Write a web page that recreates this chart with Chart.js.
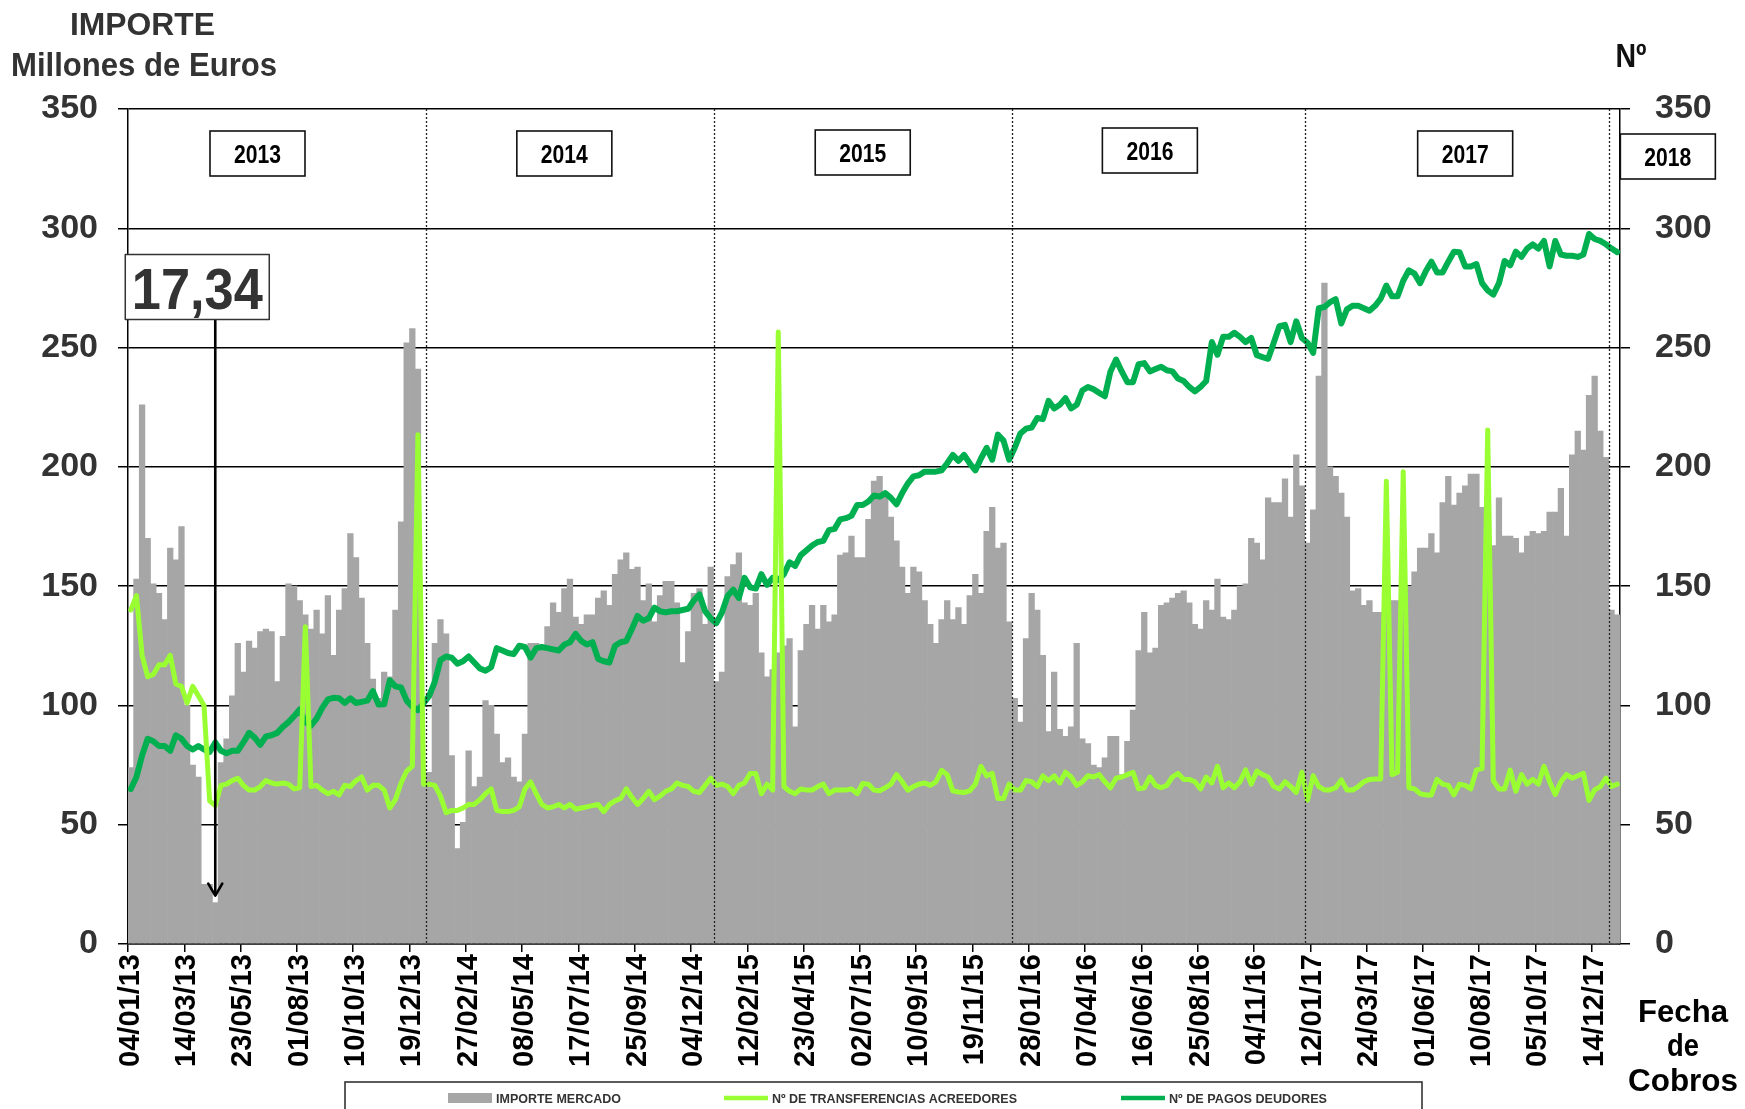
<!DOCTYPE html>
<html lang="es">
<head>
<meta charset="utf-8">
<title>Importe mercado y número de operaciones</title>
<script src="https://cdn.jsdelivr.net/npm/chart.js@4.4.1/dist/chart.umd.min.js"></script>
<style>
  html, body { margin: 0; padding: 0; background: #fff; }
  #wrap { width: 1745px; height: 1109px; }
  canvas { display: block; }
</style>
</head>
<body>
<div id="wrap"><canvas id="chart" width="1745" height="1109"></canvas></div>
<script>
// Tick labels shown every 10 weekly points (Fecha de Cobros)
const tickLabels = [
  '04/01/13', '14/03/13', '23/05/13', '01/08/13', '10/10/13', '19/12/13', '27/02/14',
  '08/05/14', '17/07/14', '25/09/14', '04/12/14', '12/02/15', '23/04/15', '02/07/15',
  '10/09/15', '19/11/15', '28/01/16', '07/04/16', '16/06/16', '25/08/16', '04/11/16',
  '12/01/17', '24/03/17', '01/06/17', '10/08/17', '05/10/17', '14/12/17'
];

// IMPORTE MERCADO (millones de euros), weekly
const importeMercado = [
  74, 153, 226, 170, 151, 147, 136, 166, 161, 175,
  100, 75, 70, 25, 25, 17.34, 76, 86, 104, 126,
  114, 127, 124, 131, 132, 131, 110, 129, 151, 150,
  144, 138, 132, 140, 130, 146, 121, 140, 149, 172,
  162, 145, 126, 111, 103, 114, 112, 140, 177, 252,
  258, 241, 68, 72, 126, 136, 130, 79, 40, 51,
  81, 66, 70, 102, 100, 88, 76, 78, 70, 68,
  88, 126, 126, 125, 133, 143, 139, 149, 153, 137,
  134, 138, 138, 145, 148, 142, 155, 161, 164, 157,
  158, 144, 151, 135, 146, 152, 152, 143, 118, 131,
  147, 149, 134, 158, 110, 114, 154, 159, 164, 143,
  142, 147, 122, 112, 115, 122, 125, 128, 91, 123,
  134, 142, 132, 142, 135, 138, 163, 164, 171, 162,
  162, 178, 194, 196, 188, 179, 169, 158, 147, 158,
  156, 144, 134, 126, 136, 144, 136, 141, 134, 146,
  155, 147, 173, 183, 166, 168, 135, 103, 93, 128,
  147, 140, 121, 89, 114, 90, 87, 91, 126, 86,
  84, 75, 74, 78, 87, 87, 71, 85, 98, 123,
  139, 122, 124, 142, 143, 145, 147, 148, 143, 134,
  132, 144, 140, 153, 137, 136, 140, 150, 151, 170,
  168, 161, 187, 185, 185, 195, 179, 205, 192, 168,
  182, 238, 277, 200, 196, 189, 179, 148, 149, 142,
  144, 139, 139, 141, 144, 144, 146, 150, 156, 166,
  166, 172, 164, 185, 196, 184, 189, 192, 197, 197,
  183, 170, 167, 187, 171, 171, 170, 164, 171, 173,
  172, 173, 181, 181, 191, 171, 205, 215, 207, 230,
  238, 215, 204, 140, 138
];

// Nº DE TRANSFERENCIAS ACREEDORES, weekly
const transferenciasAcreedores = [
  140, 146, 121, 112, 113, 117, 117, 121, 109, 108,
  101, 108, 104, 100, 60, 58, 66.5, 67, 68.5, 69.5,
  66.5, 64.5, 64.5, 66, 68.5, 67.5, 67, 67.5, 67, 65,
  65.5, 133, 66, 66.5, 64.5, 63, 64, 62.5, 66.5, 66,
  68.5, 70, 64.5, 66.5, 66.5, 64.5, 57, 60.5, 67.5, 72.5,
  74.5, 213.5, 67, 67, 66.5, 62, 55, 56, 56, 57,
  58.5, 58.5, 60.5, 63, 65, 56, 55.5, 55.5, 56, 57.5,
  65, 68, 63, 58.5, 57, 57.5, 58.5, 57, 58.5, 56.5,
  57, 57.5, 58, 58.5, 55.5, 58.5, 60, 61, 65, 61.5,
  58.5, 61, 64, 60.5, 62, 64, 65, 67.5, 66.5, 66,
  64, 63.5, 66.5, 69.5, 66.5, 67, 66, 63, 66.5, 67.5,
  71.5, 71.5, 63, 67, 64.5, 256.5, 66, 64, 63, 65,
  64.5, 64.5, 66, 67, 63, 64.5, 64.5, 64.5, 65, 63,
  67.3, 67, 64.5, 64.2, 65.5, 67, 71, 68, 64.5, 66,
  67, 67.5, 66.5, 68, 72.8, 71, 64.2, 63.7, 63.5, 64.2,
  67, 74.5, 70.5, 71.5, 61, 61, 67, 64.5, 64.5, 68.5,
  68, 66, 70.5, 68.5, 70.5, 67.5, 72, 70, 66.5, 68,
  70.5, 70, 71, 68, 65.5, 69.5, 70, 71, 72, 65,
  65.5, 70, 66.5, 65.5, 66.5, 70, 71.5, 69, 69, 68,
  65, 70, 67.5, 74.5, 65.5, 67.5, 65.5, 68, 73, 67,
  72.5, 71, 70, 66, 65, 68, 66, 63.5, 72, 60.3,
  70.5, 66, 64.6, 64.6, 65.5, 68.8, 64.5, 64.5, 66, 68,
  69, 69.2, 69.2, 194, 71, 72, 198, 65.5, 65, 63,
  62.5, 62.5, 69, 67, 66.5, 62.5, 67, 66.5, 65, 73,
  73.5, 215.5, 68.5, 65, 65, 72.9, 64, 71, 67, 69,
  67, 74.5, 68, 62.7, 68, 71, 69.5, 70.5, 71.5, 60.2,
  64.6, 66, 69.5, 66, 67
];

// Nº DE PAGOS DEUDORES, weekly
const pagosDeudores = [
  65, 70, 79, 86, 85, 83, 83, 81, 87.5, 86,
  83, 81.5, 83, 81.5, 80.5, 84.5, 81, 80, 81, 81,
  84.5, 88.5, 86.5, 83.5, 87, 87.5, 88.5, 91, 93, 95.5,
  98.3, 93, 91.5, 94.5, 99, 102.5, 103.2, 103, 101, 103,
  101, 101.5, 102, 106, 100.4, 100.5, 110.5, 108, 107.5, 102,
  99.5, 98, 101, 104, 110, 119, 120.5, 120, 117.5, 118.5,
  120.5, 118, 115.5, 114.5, 116, 124, 123, 122, 121.5, 125,
  124.5, 120, 124, 124.5, 124, 123.5, 123, 125.5, 126.5, 130,
  127, 125.5, 126.5, 119.5, 118.5, 118, 125, 126.5, 127, 132,
  137.5, 135.5, 136.5, 141, 139.5, 139, 139.5, 139.5, 140, 140.5,
  144, 146.5, 139.5, 136.5, 134.5, 139, 146, 148.5, 145, 153.5,
  149.5, 149, 155, 150.5, 153.5, 152.5, 155, 160, 158.5, 163,
  165, 167, 168.5, 169, 173.5, 174, 178, 178.5, 179.5, 184,
  184, 185.5, 188, 187.5, 189, 187, 184.3, 189, 193, 196,
  196.5, 198, 198, 198, 198.5, 201.5, 205, 202.5, 205, 201.5,
  198.5, 203.5, 208, 203, 213.5, 211, 203, 208, 214, 216,
  216.5, 220.5, 220, 227.7, 224.5, 226, 228.8, 224.5, 226, 232,
  233.5, 232.5, 231, 229.6, 240, 245, 240, 235.5, 235.5, 243,
  243.5, 240, 241, 242, 240.5, 240, 237, 236, 233.5, 231.6,
  233.5, 236, 252.3, 247, 254.5, 254.5, 256.2, 254.5, 252.3, 254,
  246.8, 246, 245.3, 252, 259, 259.5, 252.3, 261, 254, 252,
  247.8, 266.5, 267, 269, 270.3, 260.1, 266, 267.5, 267.5, 266.5,
  265.4, 267.5, 270.5, 276, 271.5, 271.5, 278, 282.4, 281, 277,
  282, 286, 281.5, 281.5, 286, 290.2, 290, 284, 284, 285,
  277, 274, 272.2, 277, 286.3, 284.5, 290.2, 288, 291.5, 293.3,
  291.5, 294.7, 284, 294.7, 289, 288.5, 288.5, 288, 289, 297.6,
  295.5, 294.7, 293.3, 291.5, 290
];

// Calendar years and the index of the first weekly point of each new year
const yearLabels = ['2013', '2014', '2015', '2016', '2017', '2018'];
const yearStartIndex = [53, 104, 157, 209, 263];

// Week with the lowest amount, called out with its value
const highlightIndex = 15;

// ---------------------------------------------------------------------------
const W = 1745, H = 1109;
const AREA = { left: 128, right: 1620, top: 109, bottom: 944 };
const FONT = "'Liberation Sans', Arial, Helvetica, sans-serif";
const COLORS = { bars: '#A6A6A6', transfer: '#99FF33', pagos: '#00B050' };

const categories = importeMercado.map((_, i) =>
  (i % 10 === 0 && tickLabels[i / 10]) ? tickLabels[i / 10] : '');

// Bold text, optionally squeezed horizontally to a given width
function text(ctx, str, x, y, size, opt) {
  const o = Object.assign({ color: '#000', align: 'center', width: null }, opt || {});
  ctx.save();
  ctx.font = `bold ${size}px ${FONT}`;
  ctx.fillStyle = o.color;
  ctx.textBaseline = 'alphabetic';
  const w = ctx.measureText(str).width;
  const sx = o.width ? o.width / w : 1;
  ctx.translate(x, y);
  ctx.scale(sx, 1);
  ctx.textAlign = o.align;
  ctx.fillText(str, 0, 0);
  ctx.restore();
}

// Year tag positions (category coordinate of the box centre, box top in px)
const yearTagAt = [22.5, 77, 130, 181, 237, 273];
const yearTagTop = [131, 131, 130, 128, 131, 134];

const decor = {
  id: 'decor',
  beforeDraw(chart) {
    const ctx = chart.ctx;
    ctx.save();
    ctx.fillStyle = '#fff';
    ctx.fillRect(0, 0, chart.width, chart.height);
    ctx.restore();
  },
  afterDatasetsDraw(chart) {
    const { ctx, chartArea: a, scales } = chart;
    const x = scales.x, y = scales.y;

    // dotted year separators
    ctx.save();
    ctx.strokeStyle = '#222';
    ctx.lineWidth = 1.3;
    ctx.setLineDash([2, 2]);
    yearStartIndex.forEach(k => {
      const px = Math.round(x.getPixelForValue(k - 0.5)) + 0.5;
      ctx.beginPath();
      ctx.moveTo(px, a.top);
      ctx.lineTo(px, a.bottom);
      ctx.stroke();
    });
    ctx.restore();

    // year tags
    yearLabels.forEach((lbl, i) => {
      const cx = x.getPixelForValue(yearTagAt[i]);
      const bw = 95, bh = 45, top = yearTagTop[i];
      ctx.save();
      ctx.fillStyle = '#fff';
      ctx.fillRect(cx - bw / 2, top, bw, bh);
      ctx.strokeStyle = '#111';
      ctx.lineWidth = 1.6;
      ctx.strokeRect(cx - bw / 2, top, bw, bh);
      ctx.restore();
      text(ctx, lbl, cx, top + bh / 2 + 9, 25, { width: 47 });
    });

    // callout of the lowest weekly amount
    const v = importeMercado[highlightIndex];
    const bx = x.getPixelForValue(highlightIndex);
    const label = v.toFixed(2).replace('.', ',');
    const boxW = 144, boxH = 65;
    const boxCx = bx - 18;
    const boxTop = y.getPixelForValue(289);
    const tipY = y.getPixelForValue(v) - 7;
    ctx.save();
    ctx.strokeStyle = '#000';
    ctx.lineWidth = 2.6;
    ctx.beginPath();
    ctx.moveTo(bx, boxTop + boxH);
    ctx.lineTo(bx, tipY);
    ctx.stroke();
    ctx.lineCap = 'round';
    ctx.lineJoin = 'round';
    ctx.beginPath();
    ctx.moveTo(bx - 7, tipY - 12);
    ctx.lineTo(bx, tipY);
    ctx.lineTo(bx + 7, tipY - 12);
    ctx.stroke();
    ctx.fillStyle = '#fff';
    ctx.fillRect(boxCx - boxW / 2, boxTop, boxW, boxH);
    ctx.strokeStyle = '#333';
    ctx.lineWidth = 1.5;
    ctx.strokeRect(boxCx - boxW / 2, boxTop, boxW, boxH);
    ctx.restore();
    text(ctx, label, boxCx, boxTop + 54, 57, { color: '#333', width: 131 });
  },
  afterDraw(chart) {
    const ctx = chart.ctx;
    // axis titles
    text(ctx, 'IMPORTE', 142.5, 34.5, 31, { color: '#333', width: 145 });
    text(ctx, 'Millones de Euros', 144, 76, 33, { color: '#333', width: 266 });
    text(ctx, 'Nº', 1631, 67, 33, { color: '#111', width: 31 });
    text(ctx, 'Fecha', 1683, 1022, 32, { width: 90 });
    text(ctx, 'de', 1683, 1056, 32, { width: 32 });
    text(ctx, 'Cobros', 1683, 1091, 32, { width: 110 });

    // legend
    ctx.save();
    ctx.strokeStyle = '#333';
    ctx.lineWidth = 1.6;
    ctx.strokeRect(345, 1082, 1422 - 345, 60);
    const ds = chart.data.datasets;
    const items = [
      { sx: 448, tx: 496, tw: 125 },
      { sx: 724, tx: 772, tw: 245 },
      { sx: 1121, tx: 1169, tw: 158 }
    ];
    const cy = 1098;
    items.forEach((it, i) => {
      const d = ds[i];
      if (d.type === 'bar') {
        ctx.fillStyle = d.backgroundColor;
        ctx.fillRect(it.sx, cy - 5, 44, 10);
      } else {
        ctx.strokeStyle = d.borderColor;
        ctx.lineWidth = 4.5;
        ctx.beginPath();
        ctx.moveTo(it.sx, cy);
        ctx.lineTo(it.sx + 44, cy);
        ctx.stroke();
      }
      text(ctx, d.label, it.tx, cy + 5, 13, { color: '#333', align: 'left', width: it.tw });
    });
    ctx.restore();
  }
};

new Chart(document.getElementById('chart').getContext('2d'), {
  type: 'bar',
  data: {
    labels: categories,
    datasets: [
      {
        type: 'bar',
        label: 'IMPORTE MERCADO',
        data: importeMercado,
        backgroundColor: COLORS.bars,
        borderWidth: 0,
        barPercentage: 1,
        categoryPercentage: 1,
        yAxisID: 'y',
        order: 3
      },
      {
        type: 'line',
        label: 'Nº DE TRANSFERENCIAS ACREEDORES',
        data: transferenciasAcreedores,
        borderColor: COLORS.transfer,
        backgroundColor: COLORS.transfer,
        borderWidth: 5,
        pointRadius: 0,
        tension: 0,
        borderJoinStyle: 'round',
        borderCapStyle: 'round',
        yAxisID: 'y2',
        order: 1
      },
      {
        type: 'line',
        label: 'Nº DE PAGOS DEUDORES',
        data: pagosDeudores,
        borderColor: COLORS.pagos,
        backgroundColor: COLORS.pagos,
        borderWidth: 6,
        pointRadius: 0,
        tension: 0,
        borderJoinStyle: 'round',
        borderCapStyle: 'round',
        yAxisID: 'y2',
        order: 2
      }
    ]
  },
  options: {
    responsive: false,
    animation: false,
    devicePixelRatio: 1,
    layout: { padding: { top: AREA.top, left: 0, right: 0, bottom: 0 } },
    plugins: { legend: { display: false }, tooltip: { enabled: false } },
    scales: {
      x: {
        type: 'category',
        offset: true,
        grid: {
          offset: true,
          drawOnChartArea: false,
          drawTicks: true,
          tickLength: 8,
          lineWidth: 1.5,
          color: c => (c.index % 10 === 0 ? '#000' : 'rgba(0,0,0,0)')
        },
        border: { display: true, color: '#000', width: 1.5 },
        ticks: {
          autoSkip: false,
          minRotation: 90,
          maxRotation: 90,
          padding: 2,
          color: '#000',
          font: { family: FONT, size: 29, weight: 'bold' }
        },
        afterFit: s => { s.height = H - AREA.bottom; }
      },
      y: {
        position: 'left',
        min: 0,
        max: 350,
        ticks: { stepSize: 50, padding: 20, color: '#333', font: { family: FONT, size: 34, weight: 'bold' } },
        grid: { color: '#000', lineWidth: 1.5, tickLength: 10 },
        border: { display: true, color: '#000', width: 1.5 },
        afterFit: s => { s.width = AREA.left; }
      },
      y2: {
        position: 'right',
        min: 0,
        max: 350,
        ticks: { stepSize: 50, padding: 25, color: '#333', font: { family: FONT, size: 34, weight: 'bold' } },
        grid: { drawOnChartArea: false, color: '#000', lineWidth: 1.5, tickLength: 10 },
        border: { display: true, color: '#000', width: 1.5 },
        afterFit: s => { s.width = W - AREA.right; }
      }
    }
  },
  plugins: [decor]
});
</script>
</body>
</html>
